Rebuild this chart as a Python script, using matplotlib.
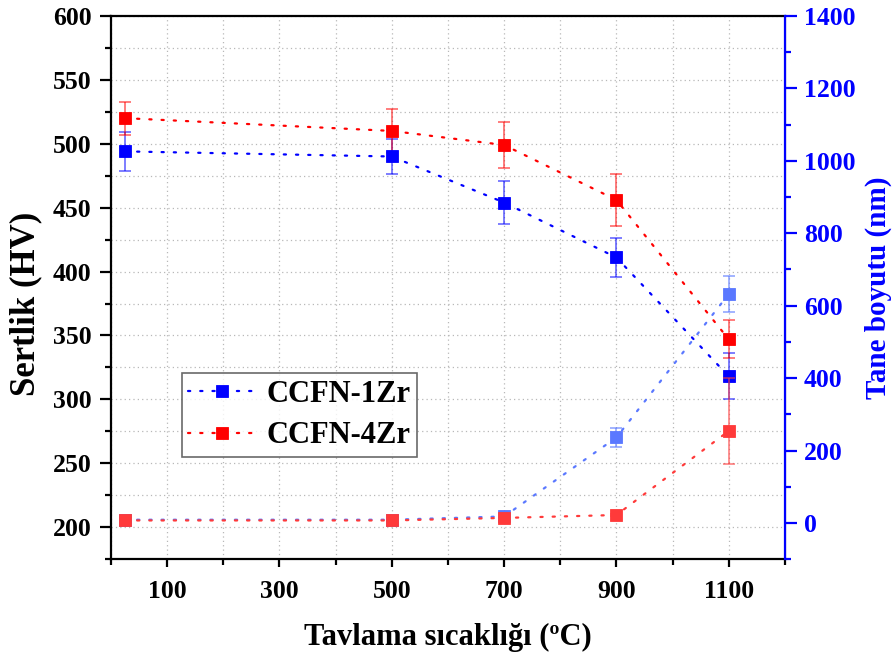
import numpy as np
import matplotlib
matplotlib.use("Agg")
import matplotlib.pyplot as plt
from matplotlib.ticker import MultipleLocator, FixedLocator

plt.rcParams['font.family'] = ['Liberation Serif', 'DejaVu Serif']
plt.rcParams['font.weight'] = 'bold'

# annealing temperature (C)
temps = [25, 500, 700, 900, 1100]

# hardness (HV), left axis
hv_1zr = [494, 490, 454, 411, 318]
hv_1zr_err = [15, 14, 17, 15, 18]
hv_4zr = [520, 510, 499, 456, 347]
hv_4zr_err = [13, 17, 18, 20, 15]

# grain size (nm), right axis
gs_1zr = [9, 9, 18, 236, 632]
gs_1zr_err = [4, 4, 4, 25, 50]
gs_4zr = [7, 7, 14, 22, 254]
gs_4zr_err_lo = [3, 3, 3, 4, 90]
gs_4zr_err_hi = [3, 3, 3, 4, 145]

fig = plt.figure(figsize=(8.94, 6.61), dpi=100)
ax = fig.add_axes([0.124, 0.154, 0.754, 0.822])
ax2 = ax.twinx()

dots = (0, (1, 4.5))

def series(axis, x, y, err, color, ecolor, label=None):
    axis.errorbar(x, y, yerr=err, fmt='none', ecolor=ecolor, elinewidth=1.3,
                  capsize=4.5, capthick=1.3, zorder=2)
    line, = axis.plot(x, y, color=color, linestyle=dots, linewidth=1.6,
                      dash_capstyle='round', marker='s', markersize=9,
                      markerfacecolor=color, markeredgecolor=color,
                      markeredgewidth=0.6, label=label, zorder=3)
    return line

g1 = series(ax2, temps, gs_1zr, gs_1zr_err, '#5a78ff', (0.35, 0.47, 1, 0.6))
g4 = series(ax2, temps, gs_4zr, [gs_4zr_err_lo, gs_4zr_err_hi], '#ff3a3a', (1, 0.23, 0.23, 0.6))
h1 = series(ax, temps, hv_1zr, hv_1zr_err, '#0000ff', (0, 0, 1, 0.55), 'CCFN-1Zr')
h4 = series(ax, temps, hv_4zr, hv_4zr_err, '#ff0000', (1, 0, 0, 0.55), 'CCFN-4Zr')

ax.set_xlim(0, 1200)
ax.set_ylim(175, 600)
ax2.set_ylim(-100, 1400)

ax.xaxis.set_major_locator(FixedLocator([100, 300, 500, 700, 900, 1100]))
ax.xaxis.set_minor_locator(FixedLocator([0, 200, 400, 600, 800, 1000, 1200]))
ax.yaxis.set_major_locator(MultipleLocator(50))
ax.yaxis.set_minor_locator(MultipleLocator(25))
ax2.yaxis.set_major_locator(MultipleLocator(200))
ax2.yaxis.set_minor_locator(MultipleLocator(100))

ax.grid(True, which='both', linestyle=(0, (1, 2.5)), color='#b8b8b8', linewidth=0.9)
ax.set_axisbelow(True)

for s in ['left', 'bottom', 'top']:
    ax.spines[s].set_linewidth(1.6)
ax2.spines['right'].set_color('#0000ff')
ax2.spines['right'].set_linewidth(1.6)
for s in ['left', 'bottom', 'top']:
    ax2.spines[s].set_visible(False)

ax.tick_params(axis='y', which='major', direction='out', length=8, width=1.6,
               labelsize=18.5, pad=6)
ax.tick_params(axis='y', which='minor', direction='out', length=4, width=1.6)
ax.tick_params(axis='x', which='major', direction='out', length=6, width=1.6,
               labelsize=18.5, pad=9)
ax.tick_params(axis='x', which='minor', direction='out', length=4.5, width=1.6)
ax2.tick_params(axis='y', which='major', direction='out', length=8.5, width=1.6,
                labelsize=18.5, pad=5, colors='#0000ff')
ax2.tick_params(axis='y', which='minor', direction='out', length=4, width=1.6,
                colors='#0000ff')

ax.set_xlabel('Tavlama sıcaklığı (ºC)', fontsize=22, fontweight='bold')
ax.xaxis.set_label_coords(0.5, -0.118)
ax.set_ylabel('Sertlik (HV)', fontsize=25, fontweight='bold')
ax.yaxis.set_label_coords(-0.102, 0.47)
ax2.set_ylabel('Tane boyutu (nm)', fontsize=21, fontweight='bold', color='#0000ff')
ax2.yaxis.set_label_coords(1.119, 0.5)

leg = ax2.legend(handles=[h1, h4], loc='lower left', bbox_to_anchor=(0.105, 0.188),
                 borderaxespad=0, fontsize=22, frameon=True, fancybox=False,
                 handlelength=2.2, handletextpad=0.35, borderpad=0.22,
                 labelspacing=0.4)
leg.get_frame().set_edgecolor('#444444')
leg.get_frame().set_linewidth(1.2)

fig.savefig('out.png', dpi=100)
